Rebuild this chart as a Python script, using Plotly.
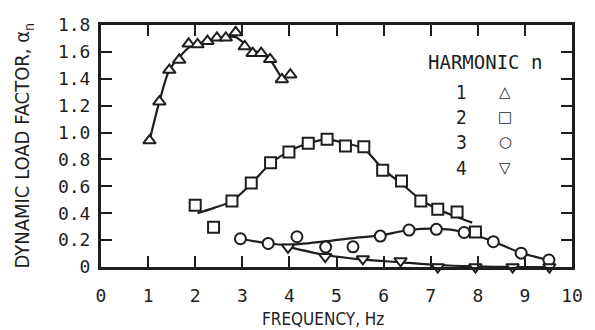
import plotly.graph_objects as go

# ---- data ----
h1_x = [1.03, 1.24, 1.45, 1.66, 1.86, 2.05, 2.26, 2.46, 2.65, 2.86, 3.05, 3.22, 3.40, 3.59, 3.84, 4.02]
h1_y = [0.94, 1.23, 1.465, 1.54, 1.66, 1.655, 1.68, 1.705, 1.705, 1.745, 1.64, 1.59, 1.59, 1.545, 1.395, 1.43]
h1_fit_x = [1.03, 1.24, 1.45, 1.66, 1.86, 2.05, 2.26, 2.46, 2.65, 2.86, 3.05, 3.22, 3.40, 3.59, 3.84]
h1_fit_y = [0.94, 1.23, 1.465, 1.56, 1.63, 1.66, 1.68, 1.70, 1.71, 1.71, 1.66, 1.61, 1.59, 1.54, 1.40]

h2_x = [2.00, 2.39, 2.78, 3.19, 3.60, 3.99, 4.40, 4.80, 5.19, 5.58, 5.98, 6.38, 6.79, 7.15, 7.56, 7.95]
h2_y = [0.46, 0.295, 0.49, 0.625, 0.775, 0.855, 0.92, 0.95, 0.90, 0.895, 0.72, 0.64, 0.49, 0.43, 0.41, 0.26]
h2_fit_x = [2.05, 2.40, 2.78, 3.19, 3.60, 3.99, 4.40, 4.80, 5.19, 5.58, 5.98, 6.38, 6.79, 7.15, 7.50, 7.88]
h2_fit_y = [0.40, 0.44, 0.49, 0.62, 0.77, 0.86, 0.92, 0.95, 0.92, 0.88, 0.73, 0.62, 0.50, 0.43, 0.38, 0.33]

h3_x = [2.96, 3.55, 4.16, 4.77, 5.35, 5.93, 6.54, 7.12, 7.71, 8.33, 8.92, 9.51]
h3_y = [0.21, 0.175, 0.225, 0.148, 0.15, 0.23, 0.275, 0.28, 0.257, 0.188, 0.103, 0.052]
h3_fit_x = [2.96, 3.55, 3.97, 4.75, 5.35, 5.93, 6.54, 7.12, 7.71, 8.33, 8.92, 9.51]
h3_fit_y = [0.21, 0.175, 0.165, 0.19, 0.215, 0.235, 0.275, 0.285, 0.26, 0.19, 0.105, 0.05]

h4_x = [3.97, 4.76, 5.56, 6.36, 7.15, 7.95, 8.74, 9.52]
h4_y = [0.146, 0.077, 0.06, 0.045, 0.0, 0.0, 0.0, 0.0]
h4_fit_x = [3.97, 4.76, 5.56, 6.36, 7.15, 7.95, 8.74, 9.52]
h4_fit_y = [0.15, 0.09, 0.055, 0.035, 0.015, 0.005, 0.0, 0.0]

x_ticks = [0, 1, 2, 3, 4, 5, 6, 7, 8, 9, 10]
y_ticks = [0, 0.2, 0.4, 0.6, 0.8, 1.0, 1.2, 1.4, 1.6, 1.8]
y_tick_text = ["0", "0.2", "0.4", "0.6", "0.8", "1.0", "1.2", "1.4", "1.6", "1.8"]

legend_numbers = ["1", "2", "3", "4"]
legend_symbols = ["\u25B3", "\u25A1", "\u25CB", "\u25BD"]

INK = "#1e1e1e"
NARROW = "DejaVu Sans Condensed, Roboto, sans-serif"

fig = go.Figure()

fits = [(h1_fit_x, h1_fit_y), (h2_fit_x, h2_fit_y), (h3_fit_x, h3_fit_y), (h4_fit_x, h4_fit_y)]
for fx, fy in fits:
    fig.add_trace(go.Scatter(x=fx, y=fy, mode="lines",
                             line=dict(color=INK, width=2.2, shape="spline", smoothing=0.8),
                             hoverinfo="skip", showlegend=False, cliponaxis=False))

series = [(h1_x, h1_y, "triangle-up"), (h2_x, h2_y, "square"),
          (h3_x, h3_y, "circle"), (h4_x, h4_y, "triangle-down")]
for sx, sy, sym in series:
    fig.add_trace(go.Scatter(x=sx, y=sy, mode="markers",
                             marker=dict(symbol=sym, size=11, color="white",
                                         line=dict(color=INK, width=2)),
                             showlegend=False, cliponaxis=False))

axis_common = dict(showgrid=False, zeroline=False, showline=True, linecolor=INK, linewidth=3,
                   mirror="ticks", ticks="inside", ticklen=11, tickwidth=2, tickcolor=INK,
                   tickfont=dict(family="DejaVu Sans Mono", size=18, color=INK))

fig.update_xaxes(range=[0, 10], tickvals=x_ticks, ticklabelstandoff=10, **axis_common)
fig.update_yaxes(range=[0, 1.8], tickvals=y_ticks, ticktext=y_tick_text, ticklabelstandoff=4, **axis_common)


def px_ann(text, px, py, font, **kw):
    return dict(text=text, xref="paper", yref="paper", x=(px - 101) / 480, y=(267 - py) / 242,
                xanchor="center", yanchor="middle", showarrow=False, font=font, **kw)


ann = []
ann.append(px_ann("FREQUENCY, Hz", 327, 319, dict(family=NARROW, size=17, color=INK)))
ann.append(px_ann("DYNAMIC LOAD FACTOR, \u03b1<sub>n</sub>", 22, 145,
                  dict(family=NARROW, size=20, color=INK), textangle=-90))
ann.append(px_ann("HARMONIC n", 492, 62, dict(family="DejaVu Sans Mono", size=19, color=INK)))
leg_y = [92, 117, 142, 168]
for num, sym, py in zip(legend_numbers, legend_symbols, leg_y):
    ann.append(px_ann(num, 468, py, dict(family=NARROW, size=19, color=INK)))
    ann.append(px_ann(sym, 513, py, dict(family="DejaVu Sans", size=15, color=INK)))

fig.update_layout(width=595, height=330, margin=dict(l=101, r=14, t=25, b=63),
                  paper_bgcolor="white", plot_bgcolor="white", annotations=ann)

fig.write_html("out.html")
